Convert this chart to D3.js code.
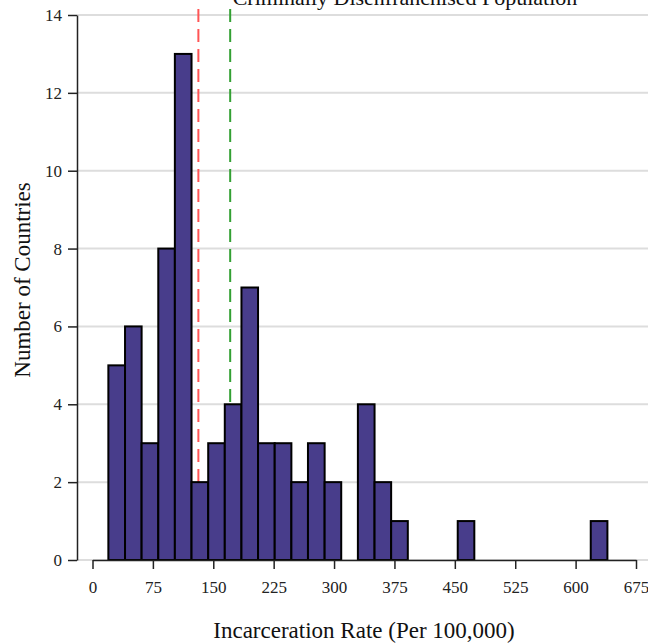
<!DOCTYPE html>
<html>
<head>
<meta charset="utf-8">
<script src="https://cdn.jsdelivr.net/npm/d3@7"></script>
<style>
  html, body { margin: 0; padding: 0; background: #fff; }
  svg { display: block; font-family: "Liberation Serif", "DejaVu Serif", serif; }
</style>
</head>
<body>
<svg id="chart" width="648" height="644"></svg>
<script>
// ---- data ----
const title = "Criminally Disenfranchised Population";
const xLabel = "Incarceration Rate (Per 100,000)";
const yLabel = "Number of Countries";
const binEdges = [19.7, 40.4, 61.0, 81.7, 102.3, 123.0, 143.7, 164.3, 185.0, 205.6,
                  226.3, 247.0, 267.6, 288.3, 308.9, 329.6, 350.3, 370.9, 391.6, 412.2,
                  432.9, 453.6, 474.2, 494.9, 515.5, 536.2, 556.9, 577.5, 598.2, 618.8, 639.5];
const binCounts = [5, 6, 3, 8, 13, 2, 3, 4, 7, 3,
                   3, 2, 3, 2, 0, 4, 2, 1, 0, 0,
                   0, 1, 0, 0, 0, 0, 0, 0, 0, 1];
const xTicks = [0, 75, 150, 225, 300, 375, 450, 525, 600, 675];
const yTicks = [0, 2, 4, 6, 8, 10, 12, 14];
const refValues = [131.5, 171];          // median, mean
const refColors = ["#ff5555", "#33a033"];

// ---- layout ----
const svg = d3.select("#chart");
const x = d3.scaleLinear().domain([0, 675]).range([92.5, 636]);
const y = d3.scaleLinear().domain([0, 14]).range([560, 15]);
const yAxisX = 77;

// gridlines
svg.append("g").selectAll("line").data(yTicks).join("line")
  .attr("x1", yAxisX).attr("x2", 648)
  .attr("y1", d => y(d)).attr("y2", d => y(d))
  .attr("stroke", "#dddddd").attr("stroke-width", 2);

// reference lines
svg.append("g").selectAll("line").data(refValues).join("line")
  .attr("x1", d => x(d)).attr("x2", d => x(d))
  .attr("y1", 9).attr("y2", y(0))
  .attr("stroke", (d, i) => refColors[i])
  .attr("stroke-width", 2)
  .attr("stroke-dasharray", "13,7");

// bars
const bins = binCounts.map((c, i) => ({x0: binEdges[i], x1: binEdges[i + 1], c}));
svg.append("g").selectAll("rect").data(bins.filter(b => b.c > 0)).join("rect")
  .attr("x", d => x(d.x0))
  .attr("width", d => x(d.x1) - x(d.x0))
  .attr("y", d => y(d.c))
  .attr("height", d => y(0) - y(d.c))
  .attr("fill", "#483d8b")
  .attr("stroke", "#000")
  .attr("stroke-width", 2);

// y axis
const gy = svg.append("g").attr("transform", `translate(${yAxisX},0)`)
  .call(d3.axisLeft(y).tickValues(yTicks).tickSize(9).tickSizeOuter(0).tickPadding(6));
gy.selectAll("text").attr("font-size", 17).attr("fill", "#222").attr("font-family", "Liberation Serif");
gy.selectAll("line, path").attr("stroke", "#222").attr("stroke-width", 1.5);

// x axis
const gx = svg.append("g").attr("transform", `translate(0,${y(0)})`)
  .call(d3.axisBottom(x).tickValues(xTicks).tickSize(9).tickSizeOuter(0).tickPadding(12));
gx.selectAll("text").attr("font-size", 17).attr("fill", "#222").attr("font-family", "Liberation Serif");
gx.selectAll("line, path").attr("stroke", "#222").attr("stroke-width", 1.5);

// labels
svg.append("text").attr("x", 405).attr("y", 5)
  .attr("text-anchor", "middle").attr("font-size", 22).attr("fill", "#111")
  .text(title);
svg.append("text").attr("x", 364).attr("y", 638)
  .attr("text-anchor", "middle").attr("font-size", 23).attr("fill", "#111")
  .text(xLabel);
svg.append("text").attr("transform", "translate(30,280) rotate(-90)")
  .attr("text-anchor", "middle").attr("font-size", 23).attr("fill", "#111")
  .text(yLabel);
</script>
</body>
</html>
